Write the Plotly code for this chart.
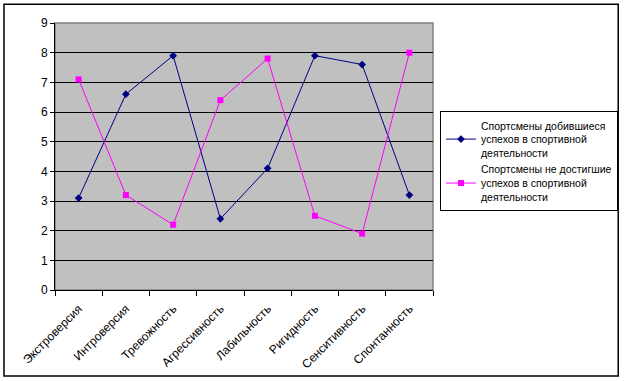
import plotly.graph_objects as go

categories = ["Экстроверсия", "Интроверсия", "Тревожность", "Агрессивность",
              "Лабильность", "Ригидность", "Сенситивность", "Спонтанность"]
success = [3.1, 6.6, 7.9, 2.4, 4.1, 7.9, 7.6, 3.2]
no_success = [7.1, 3.2, 2.2, 6.4, 7.8, 2.5, 1.9, 8.0]
name_success = "Спортсмены добившиеся<br>успехов в спортивной<br>деятельности"
name_no_success = "Спортсмены не достигшие<br>успехов в спортивной<br>деятельности"

fig = go.Figure()
fig.add_trace(go.Scatter(x=categories, y=success, mode="lines+markers", name=name_success,
                         line=dict(color="#000080", width=1),
                         marker=dict(symbol="diamond", size=6, color="#000080")))
fig.add_trace(go.Scatter(x=categories, y=no_success, mode="lines+markers", name=name_no_success,
                         line=dict(color="#FF00FF", width=1),
                         marker=dict(symbol="square", size=6, color="#FF00FF")))

font = dict(family="Liberation Sans, Arial, sans-serif", size=11, color="black")
xfont = dict(family="Liberation Sans, Arial, sans-serif", size=12, color="black")

fig.update_layout(
    width=624, height=381,
    margin=dict(l=55, r=191, t=23, b=91, autoexpand=False),
    paper_bgcolor="white", plot_bgcolor="#C0C0C0",
    font=font,
    showlegend=True,
    legend=dict(x=1.0185, y=0.67, xanchor="left", yanchor="top",
                bordercolor="black", borderwidth=1, bgcolor="white",
                font=dict(family="Liberation Sans, Arial, sans-serif", size=10.5, color="black"),
                tracegroupgap=0, itemwidth=30),
    xaxis=dict(type="category", tickangle=-45, tickson="boundaries", ticks="outside",
               ticklen=5, tickcolor="black", showline=True, linecolor="black", linewidth=1,
               showgrid=False, tickfont=xfont, range=[-0.5, 7.5], automargin=False,
               ticklabelstandoff=6),
    yaxis=dict(range=[0, 9], dtick=1, ticks="outside", ticklen=4, tickcolor="black",
               showline=True, linecolor="black", linewidth=1,
               showgrid=True, gridcolor="black", gridwidth=1, zeroline=False,
               tickfont=xfont, automargin=False),
    shapes=[
        dict(type="rect", xref="paper", yref="paper", x0=0, x1=1, y0=0, y1=1,
             line=dict(color="#808080", width=1.5), layer="below"),
        dict(type="rect", xref="paper", yref="paper", x0=-0.135, x1=1.49, y0=-0.322, y1=1.07,
             line=dict(color="black", width=1.5)),
    ],
)

fig.write_html("out.html", config={"displayModeBar": False},
               post_script="document.body.style.margin='0';document.body.style.padding='0';window.dispatchEvent(new Event('resize'));")
